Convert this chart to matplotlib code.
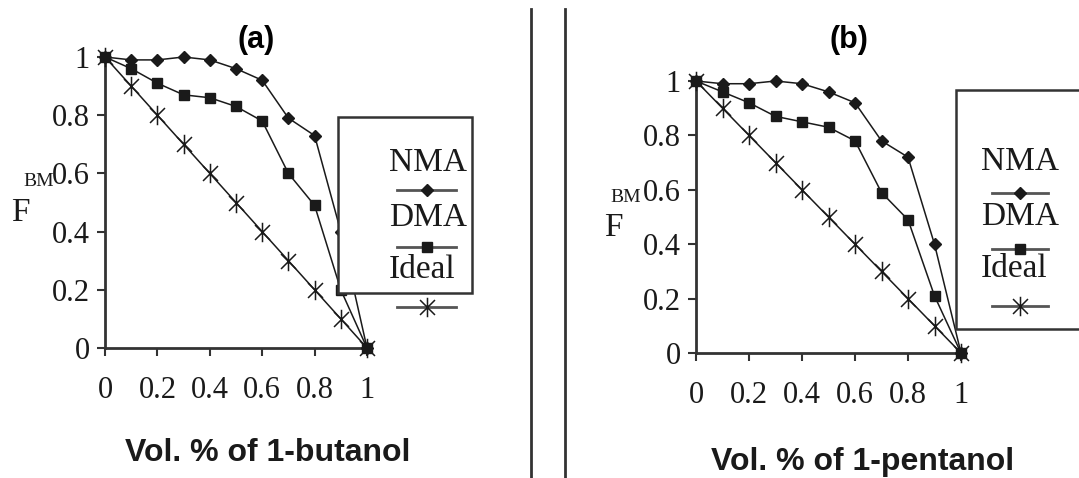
import matplotlib
matplotlib.use("Agg")
import matplotlib.pyplot as plt
from matplotlib.path import Path
from matplotlib.patches import Rectangle
from matplotlib.lines import Line2D

# volume fraction of alcohol
x = [0, 0.1, 0.2, 0.3, 0.4, 0.5, 0.6, 0.7, 0.8, 0.9, 1.0]

series_names = ["NMA", "DMA", "Ideal"]

# (a) 1-butanol
nma_a = [1.0, 0.99, 0.99, 1.0, 0.99, 0.96, 0.92, 0.79, 0.73, 0.40, 0.0]
dma_a = [1.0, 0.96, 0.91, 0.87, 0.86, 0.83, 0.78, 0.60, 0.49, 0.20, 0.0]
ideal_a = [1.0, 0.9, 0.8, 0.7, 0.6, 0.5, 0.4, 0.3, 0.2, 0.1, 0.0]

# (b) 1-pentanol
nma_b = [1.0, 0.99, 0.99, 1.0, 0.99, 0.96, 0.92, 0.78, 0.72, 0.40, 0.0]
dma_b = [1.0, 0.96, 0.92, 0.87, 0.85, 0.83, 0.78, 0.59, 0.49, 0.21, 0.0]
ideal_b = [1.0, 0.9, 0.8, 0.7, 0.6, 0.5, 0.4, 0.3, 0.2, 0.1, 0.0]

ticks = [0, 0.2, 0.4, 0.6, 0.8, 1]
tick_labels = ["0", "0.2", "0.4", "0.6", "0.8", "1"]

W, H = 1079, 478
SERIF = ["Liberation Serif", "DejaVu Serif"]
SANS = ["Liberation Sans", "DejaVu Sans"]
INK = "#1a1a1a"

# excel-like asterisk: an X with a vertical bar
star = Path([(-1, -1), (1, 1), (-1, 1), (1, -1), (0, -1.3), (0, 1.3)],
            [Path.MOVETO, Path.LINETO, Path.MOVETO, Path.LINETO, Path.MOVETO, Path.LINETO])

styles = [
    dict(marker="D", markersize=6.5, markerfacecolor=INK, markeredgecolor=INK),
    dict(marker="s", markersize=7, markerfacecolor=INK, markeredgecolor=INK),
    dict(marker=star, markersize=14, markerfacecolor="none", markeredgecolor=INK, markeredgewidth=1.1),
]


def fx(px):
    return px / W


def fy(py):
    return 1 - py / H


def draw_panel(rect, data):
    ax = fig.add_axes(rect)
    for ys, st in zip(data, styles):
        ax.plot(x, ys, color=INK, lw=1.1, clip_on=False, zorder=3, **st)
    ax.set_xlim(0, 1)
    ax.set_ylim(0, 1)
    ax.set_xticks(ticks)
    ax.set_xticklabels(tick_labels)
    ax.set_yticks(ticks)
    ax.set_yticklabels(tick_labels)
    for s in ["top", "right"]:
        ax.spines[s].set_visible(False)
    for s in ["left", "bottom"]:
        ax.spines[s].set_color("#333333")
        ax.spines[s].set_linewidth(2)
    ax.tick_params(axis="x", direction="out", length=6, width=1.5, color="#333333",
                   pad=14, labelsize=22, labelcolor=INK)
    ax.tick_params(axis="y", direction="out", length=6, width=1.5, color="#333333",
                   pad=5, labelsize=22, labelcolor=INK)
    for lab in ax.get_xticklabels() + ax.get_yticklabels():
        lab.set_family(SERIF)
    return ax


def draw_legend(box, text_x, line_x0, line_x1, rows):
    left, top, right, bottom = box
    fig.add_artist(Rectangle((fx(left), fy(bottom)), fx(right) - fx(left), fy(top) - fy(bottom),
                             transform=fig.transFigure, facecolor="white",
                             edgecolor="#333333", lw=1.8, zorder=5))
    for name, st, (ty, ly) in zip(series_names, styles, rows):
        fig.text(fx(text_x), fy(ty), name, family=SERIF, fontsize=24, color=INK,
                 va="center", ha="left", zorder=6)
        fig.add_artist(Line2D([fx(line_x0), fx(line_x1)], [fy(ly), fy(ly)],
                              transform=fig.transFigure, color="#555555", lw=2, zorder=6))
        fig.add_artist(Line2D([fx((line_x0 + line_x1) / 2)], [fy(ly)],
                              transform=fig.transFigure, linestyle="none", zorder=7, **st))


fig = plt.figure(figsize=(W / 100, H / 100), dpi=100)

ax_a = draw_panel([fx(105), fy(348), fx(367) - fx(105), fy(57) - fy(348)],
                  [nma_a, dma_a, ideal_a])
ax_b = draw_panel([fx(696), fy(353), fx(961) - fx(696), fy(81) - fy(353)],
                  [nma_b, dma_b, ideal_b])

# titles
fig.text(fx(256), fy(40), "(a)", family=SANS, fontsize=22, weight="bold", ha="center", va="center")
fig.text(fx(849), fy(40), "(b)", family=SANS, fontsize=22, weight="bold", ha="center", va="center")

# x axis labels
fig.text(fx(268), fy(453), "Vol. % of 1-butanol", family=SANS, fontsize=23, weight="bold",
         ha="center", va="center", color=INK)
fig.text(fx(863), fy(462), "Vol. % of 1-pentanol", family=SANS, fontsize=23, weight="bold",
         ha="center", va="center", color=INK)

# y axis label, F with a misplaced "BM"
fig.text(fx(20), fy(213), "F", family=SERIF, fontsize=24, ha="center", va="center", color=INK)
fig.text(fx(39), fy(182), "BM", family=SERIF, fontsize=14, ha="center", va="center", color=INK)
fig.text(fx(613), fy(228), "F", family=SERIF, fontsize=24, ha="center", va="center", color=INK)
fig.text(fx(626), fy(197), "BM", family=SERIF, fontsize=14, ha="center", va="center", color=INK)

# legends
draw_legend((338, 117, 472, 293), 389, 397, 456,
            [(163, 190), (218, 247), (270, 307)])
draw_legend((956, 90, 1100, 329), 981, 992, 1048,
            [(162, 193), (217, 249), (269, 306)])

# divider lines between the panels
for xd in [531, 565]:
    fig.add_artist(Line2D([fx(xd), fx(xd)], [fy(9), fy(478)], transform=fig.transFigure,
                          color="#333333", lw=2))

fig.savefig("out.png", dpi=100)
